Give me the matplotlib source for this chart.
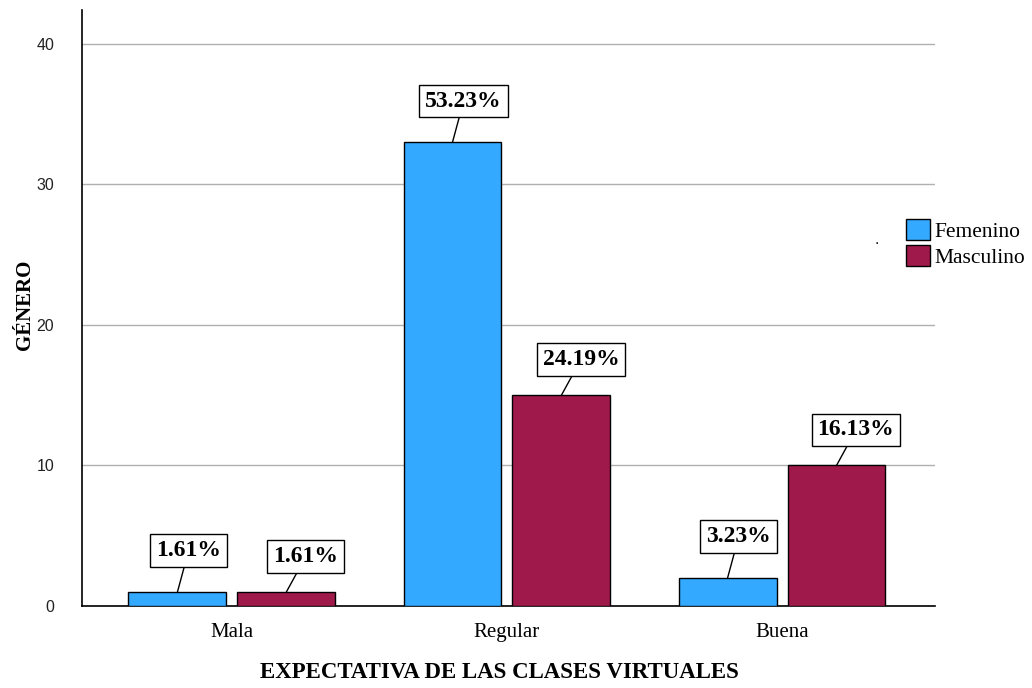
import numpy as np
import matplotlib
matplotlib.use('Agg')
import matplotlib.pyplot as plt

categories = ['Mala', 'Regular', 'Buena']
series_names = ['Femenino', 'Masculino']
femenino = [1, 33, 2]
masculino = [1, 15, 10]
fem_pct = ['1.61%', '53.23%', '3.23%']
masc_pct = ['1.61%', '24.19%', '16.13%']
y_ticks = [0, 10, 20, 30, 40]

colors = ['#33AAFF', '#A0194B']
serif = 'Liberation Serif'
sans = 'Liberation Sans'

fig = plt.figure(figsize=(10.32, 6.88), dpi=100)
ax = fig.add_axes([82/1032, 1-606/688, (935-82)/1032, (606-10)/688])

x = np.arange(len(categories))
w = 0.356
gap = 0.02
b1 = ax.bar(x - w/2 - gap, femenino, w, color=colors[0], edgecolor='black', linewidth=1.0, label=series_names[0], zorder=3)
b2 = ax.bar(x + w/2 + gap, masculino, w, color=colors[1], edgecolor='black', linewidth=1.0, label=series_names[1], zorder=3)

# labels with leader lines
def label(bars, texts, dx, dy):
    for rect, t in zip(bars, texts):
        cx = rect.get_x() + rect.get_width()/2
        top = rect.get_height()
        ax.annotate(t, xy=(cx, top), xytext=(dx, dy), textcoords='offset points',
                    ha='center', va='bottom', fontsize=17, fontweight='bold', family=serif,
                    bbox=dict(boxstyle='square,pad=0.25', fc='white', ec='black', lw=1),
                    arrowprops=dict(arrowstyle='-', color='black', lw=1, shrinkA=0, shrinkB=0),
                    zorder=5)

label(b1, fem_pct, 8, 22)
label(b2, masc_pct, 14, 18)

ax.set_xlim(-0.545, 2.556)
ax.set_ylim(0, 42.4)
ax.set_yticks(y_ticks)
ax.set_xticks(x)
ax.set_xticklabels(categories, family=serif, fontsize=15)
for lab in ax.get_yticklabels():
    lab.set_family(sans)
    lab.set_fontsize(11.5)
    lab.set_color('#222222')
ax.tick_params(axis='y', length=0, pad=20)
ax.tick_params(axis='x', length=0, pad=12)
ax.yaxis.grid(True, color='#b0b0b0', linewidth=1, zorder=0)
ax.set_axisbelow(True)
for s in ['top', 'right']:
    ax.spines[s].set_visible(False)
for s in ['left', 'bottom']:
    ax.spines[s].set_color('black')
    ax.spines[s].set_linewidth(1.2)

fig.text(499/1032, 1-673/688, 'EXPECTATIVA DE LAS CLASES VIRTUALES', ha='center', va='center',
         family=serif, fontweight='bold', fontsize=16.5)
fig.text(25/1032, 1-305/688, 'GÉNERO', ha='center', va='center', rotation=90,
         family=serif, fontweight='bold', fontsize=15)
fig.text(877/1032, 1-240/688, '.', ha='center', va='center', fontsize=10)

fig.legend(handles=[b1, b2], labels=series_names, loc='upper left',
           bbox_to_anchor=(906/1032, 1-219/688), frameon=False,
           prop={'family': serif, 'size': 15.5}, handlelength=1.1, handleheight=1.1,
           handletextpad=0.2, borderpad=0, borderaxespad=0, labelspacing=0.15)

fig.savefig('out.png', dpi=100)
